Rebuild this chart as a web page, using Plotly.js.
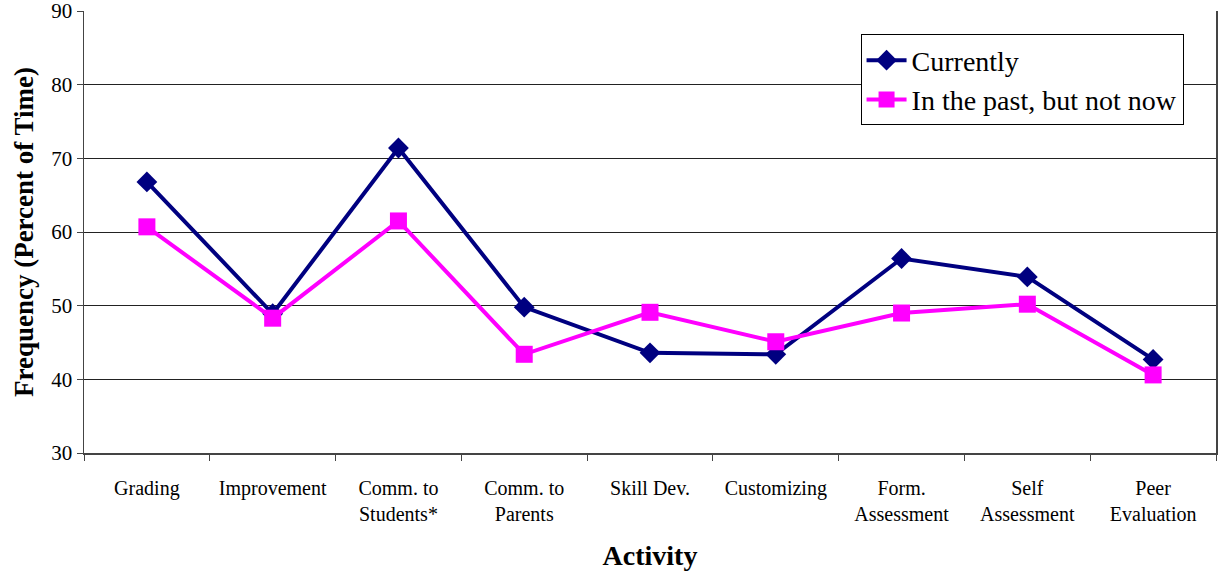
<!DOCTYPE html>
<html>
<head>
<meta charset="utf-8">
<script src="https://cdn.plot.ly/plotly-3.0.1.min.js"></script>
<style>
  html, body { margin: 0; padding: 0; background: #fff; }
  #chart { width: 1225px; height: 573px; }
</style>
</head>
<body>
<div id="chart"></div>
<script>
// Activity categories along the x axis
const activities = [
  "Grading", "Improvement", "Comm. to<br>Students*", "Comm. to<br>Parents",
  "Skill Dev.", "Customizing", "Form.<br>Assessment", "Self<br>Assessment", "Peer<br>Evaluation"
];

// Frequency (percent of time) for each series
const currently = [66.8, 48.9, 71.4, 49.8, 43.6, 43.4, 56.4, 53.9, 42.7];
const pastNotNow = [60.7, 48.3, 61.5, 43.4, 49.1, 45.1, 49.0, 50.2, 40.6];

const yTicks = [30, 40, 50, 60, 70, 80, 90];

const serif = "Liberation Serif, Times New Roman, serif";

const traces = [
  {
    x: activities, y: currently, name: "Currently",
    type: "scatter", mode: "lines+markers",
    line: { color: "#000080", width: 4 },
    marker: { symbol: "diamond", size: 16, color: "#000080" }
  },
  {
    x: activities, y: pastNotNow, name: "In the past, but not now",
    type: "scatter", mode: "lines+markers",
    line: { color: "#FF00FF", width: 4 },
    marker: { symbol: "square", size: 17, color: "#FF00FF" }
  }
];

const layout = {
  width: 1225, height: 573,
  margin: { l: 84, r: 9, t: 11, b: 120 },
  paper_bgcolor: "#fff", plot_bgcolor: "#fff",
  font: { family: serif, color: "#000" },
  showlegend: true,
  legend: {
    x: 0.686, y: 0.947, xanchor: "left", yanchor: "top",
    bgcolor: "#fff", bordercolor: "#000", borderwidth: 1,
    font: { family: serif, size: 28, color: "#000" },
    tracegroupgap: 0, itemwidth: 40
  },
  xaxis: {
    type: "category",
    tickson: "boundaries",
    ticks: "outside", ticklen: 6, tickcolor: "#444", tickwidth: 1,
    showline: true, linecolor: "#444", linewidth: 1.5,
    showgrid: false, zeroline: false,
    tickfont: { family: serif, size: 20, color: "#000" },
    ticklabelstandoff: 16,
    title: { text: "<b>Activity</b>", font: { family: serif, size: 28, color: "#000" }, standoff: 22 },
    range: [-0.5, 8.5], fixedrange: true
  },
  yaxis: {
    range: [30, 90], tickvals: yTicks, ticktext: yTicks.map(String),
    ticks: "outside", ticklen: 6, tickcolor: "#444",
    ticklabeloverflow: "allow",
    showline: true, linecolor: "#444", linewidth: 1.5, mirror: true,
    showgrid: true, gridcolor: "#222", gridwidth: 1,
    zeroline: false,
    tickfont: { family: serif, size: 21, color: "#000" },
    title: { text: "<b>Frequency (Percent of Time)</b>", font: { family: serif, size: 27, color: "#000" }, standoff: 10 },
    fixedrange: true
  }
};

Plotly.newPlot("chart", traces, layout, { displayModeBar: false, staticPlot: true });
</script>
</body>
</html>
